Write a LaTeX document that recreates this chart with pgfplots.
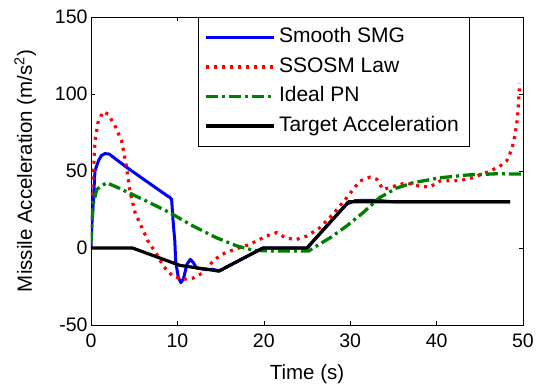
\documentclass[border=0pt]{standalone}
\usepackage{pgfplots}
\pgfplotsset{compat=1.18}
\usepackage{fontspec}
\setmainfont{Liberation Sans}
\definecolor{mblue}{rgb}{0,0,1}
\definecolor{mred}{rgb}{1,0,0}
\definecolor{mgreen}{rgb}{0,0.5,0}
\begin{document}
\begin{tikzpicture}
\path[use as bounding box] (-91pt,-61pt) rectangle (450pt,325pt);
\begin{axis}[
  at={(0,0)}, anchor=south west,
  scale only axis, width=432pt, height=308pt,
  xmin=0, xmax=50, ymin=-50, ymax=150,
  xtick={0,10,20,30,40,50},
  ytick={-50,0,50,100,150},
  yticklabels={-50,0,50,100,150},
  xticklabels={0,10,20,30,40,50},
  tick align=inside, major tick length=4pt,
  tick style={black, line width=0.6pt},
  axis line style={line width=0.8pt},
  ticklabel style={font=\fontsize{19.5}{22}\selectfont},
  xticklabel style={yshift=-5pt},
  xlabel={Time (s)},
  ylabel={Missile Acceleration (m/s\textsuperscript{2})},
  label style={font=\fontsize{20.5}{24}\selectfont},
  xlabel style={at={(axis description cs:0.5,-0.16)}, anchor=center},
  ylabel style={at={(axis description cs:-0.152,0.5)}, anchor=center},
  legend image code/.code={\draw[#1] (0pt,0pt) -- (68pt,0pt);},
  legend cell align=left,
  legend style={at={(axis description cs:0.875,1)}, anchor=north east,
    draw=black, fill=white, inner sep=7pt, row sep=3pt,
    font=\fontsize{21}{24}\selectfont,
    nodes={inner sep=3pt, text height=15.5pt, text depth=5pt}},
]
\addplot[mblue, line width=3pt, line join=round] coordinates {
(0,0) (0.1,15) (0.27,30) (0.46,50) (0.85,56.5) (1.2,60) (1.62,61.3) (2.1,61)
(4.1,52.5) (6.5,43) (8.8,34) (9.1,33) (9.33,31.6) (9.5,17.5) (9.7,4.5) (9.8,-8.5)
(10.1,-19) (10.4,-22.5) (10.7,-20) (11.1,-10.6) (11.5,-7.4) (11.85,-9.5) (12.2,-13)
(13.2,-13.9) (14.2,-13.9) (14.8,-15) (19.9,0) (25,0) (29.6,28.5) (30.6,30.8)
(33,31) (35,30) (48.5,30)};
\addplot[mred, line width=3.2pt, dash pattern=on 3pt off 5pt] coordinates {
(0,8) (0.08,30) (0.27,48) (0.46,69.5) (0.85,82.5) (1.42,88.5) (2.0,86.8) (2.8,79)
(3.55,69.5) (4.1,53) (4.5,37) (5.1,23) (5.9,13.2) (6.6,4.5) (7.6,-4) (8.4,-12)
(9.5,-18.5) (10.7,-20.3) (11.85,-19.5) (13,-16) (14.2,-8) (15.2,-4) (16.1,-2)
(17.2,0.2) (18.4,2.4) (20.3,7.8) (21.5,10) (22.6,6.3) (23.8,5.6) (25,7.8)
(26.5,13.2) (28,21.9) (29.6,32.7) (31.1,43.5) (32.3,46) (33.1,44.6) (33.8,38)
(35,40) (36.5,42.4) (38.1,40) (39.2,39.6) (40.4,43.5) (42.7,43.8) (44.2,45.7)
(46.2,50) (47.3,53) (48.1,56.5) (48.7,64) (49.1,74) (49.35,84) (49.5,95.5) (49.6,107)};
\addplot[mgreen, line width=3.3pt, dash pattern=on 12pt off 4pt on 3pt off 4pt] coordinates {
(0,3) (0.1,18) (0.27,28.6) (0.66,38) (1.8,42.4) (3.2,39) (4.7,35) (6.4,30.5)
(9.1,23) (11.8,14.3) (14.5,6.7) (16.9,1.3) (18.8,-1.5) (21,-2) (25.2,-2) (25.7,0)
(27.7,6.7) (29.6,14.3) (31.5,23) (33.4,32.7) (35.4,39) (37.3,42.4) (40.4,45.6)
(43.5,47.4) (47,48.2) (50,48)};
\addplot[black, line width=3.2pt, line join=round] coordinates {
(0,0) (4.8,0) (10.3,-11.3) (12.4,-13) (14.8,-15) (19.9,0) (25,0) (29.8,30) (48.5,30)};
\legend{Smooth SMG, SSOSM Law, Ideal PN, Target Acceleration}
\end{axis}
\end{tikzpicture}
\end{document}
